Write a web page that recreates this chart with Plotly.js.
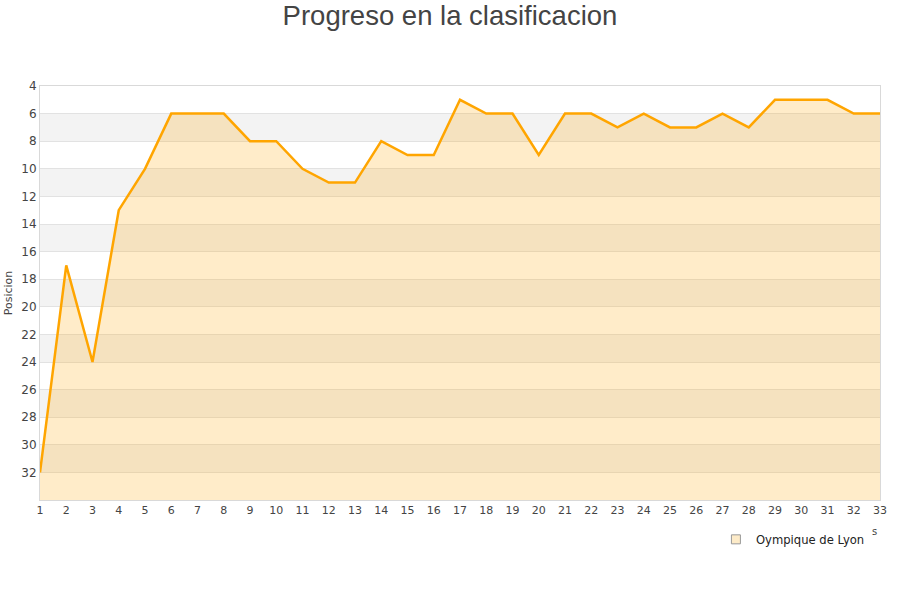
<!DOCTYPE html>
<html>
<head>
<meta charset="utf-8">
<script src="https://cdn.plot.ly/plotly-3.0.1.min.js"></script>
<style>html,body{margin:0;padding:0;background:#fff;}#chart{width:900px;height:600px;}</style>
</head>
<body>
<div id="chart"></div>
<script>
const jornadas = [1,2,3,4,5,6,7,8,9,10,11,12,13,14,15,16,17,18,19,20,21,22,23,24,25,26,27,28,29,30,31,32,33];
const posicion = [32,17,24,13,10,6,6,6,8,8,10,11,11,8,9,9,5,6,6,9,6,6,7,6,7,7,6,7,5,5,5,6,6];
const teamName = "Oympique de Lyon";
const yTicks = [4,6,8,10,12,14,16,18,20,22,24,26,28,30,32];
const bandStarts = [6,10,14,18,22,26,30];
const yBottom = 34, yTop = 4;

const baseline = jornadas.map(() => yBottom);

const shapes = bandStarts.map(s => ({
  type: 'rect', xref: 'paper', yref: 'y', x0: 0, x1: 1, y0: s, y1: s + 2,
  fillcolor: '#f3f3f3', line: {width: 0}, layer: 'below'
}));

const traces = [
  {x: jornadas, y: baseline, mode: 'lines', line: {width: 0, color: 'rgba(0,0,0,0)'},
   hoverinfo: 'skip', showlegend: false},
  {x: jornadas, y: posicion, mode: 'lines', fill: 'tonexty',
   fillcolor: 'rgba(255,165,0,0.21)', line: {color: '#ffa500', width: 2.5},
   name: teamName, showlegend: false},
  {x: [null], y: [null], mode: 'markers', name: teamName,
   marker: {symbol: 'square', size: 9, color: '#fdebc8', line: {color: '#999', width: 1}}}
];

const layout = {
  width: 900, height: 600,
  margin: {l: 40, r: 20, t: 86, b: 100},
  paper_bgcolor: '#fff', plot_bgcolor: '#fff',
  title: {text: 'Progreso en la clasificacion', x: 0.5, xanchor: 'center', y: 0.975, yanchor: 'middle',
          font: {family: 'Liberation Sans, Arial, sans-serif', size: 27.5, color: '#444'}},
  font: {family: 'DejaVu Sans, Verdana, sans-serif', size: 11, color: '#444'},
  xaxis: {range: [1, 33], tickmode: 'array', tickvals: jornadas, ticktext: jornadas.map(String),
          showgrid: false, zeroline: false, showline: true, linecolor: '#d9d9d9', linewidth: 1, mirror: true,
          ticks: '', tickfont: {size: 11, color: '#444'}, fixedrange: true},
  yaxis: {range: [yBottom, yTop], tickmode: 'array', tickvals: yTicks, ticktext: yTicks.map(String),
          showgrid: true, gridcolor: '#e2e2e2', gridwidth: 1, zeroline: false,
          showline: true, linecolor: '#d9d9d9', linewidth: 1, mirror: true,
          ticks: '', tickfont: {size: 12, color: '#444'},
          title: {text: 'Posicion', font: {size: 11, color: '#444'}, standoff: 6}},
  shapes: shapes,
  showlegend: true,
  legend: {x: 0.988, xanchor: 'right', y: -0.06, yanchor: 'top', orientation: 'h',
           font: {size: 11.6, color: '#222'}, bgcolor: 'rgba(0,0,0,0)', itemwidth: 30},
  annotations: [{xref: 'paper', yref: 'paper', x: 0.994, y: -0.075, xanchor: 'center', yanchor: 'middle',
                 text: 's', showarrow: false, font: {size: 10, color: '#444'}}]
};

Plotly.newPlot('chart', traces, layout, {displayModeBar: false, staticPlot: true});
</script>
</body>
</html>
